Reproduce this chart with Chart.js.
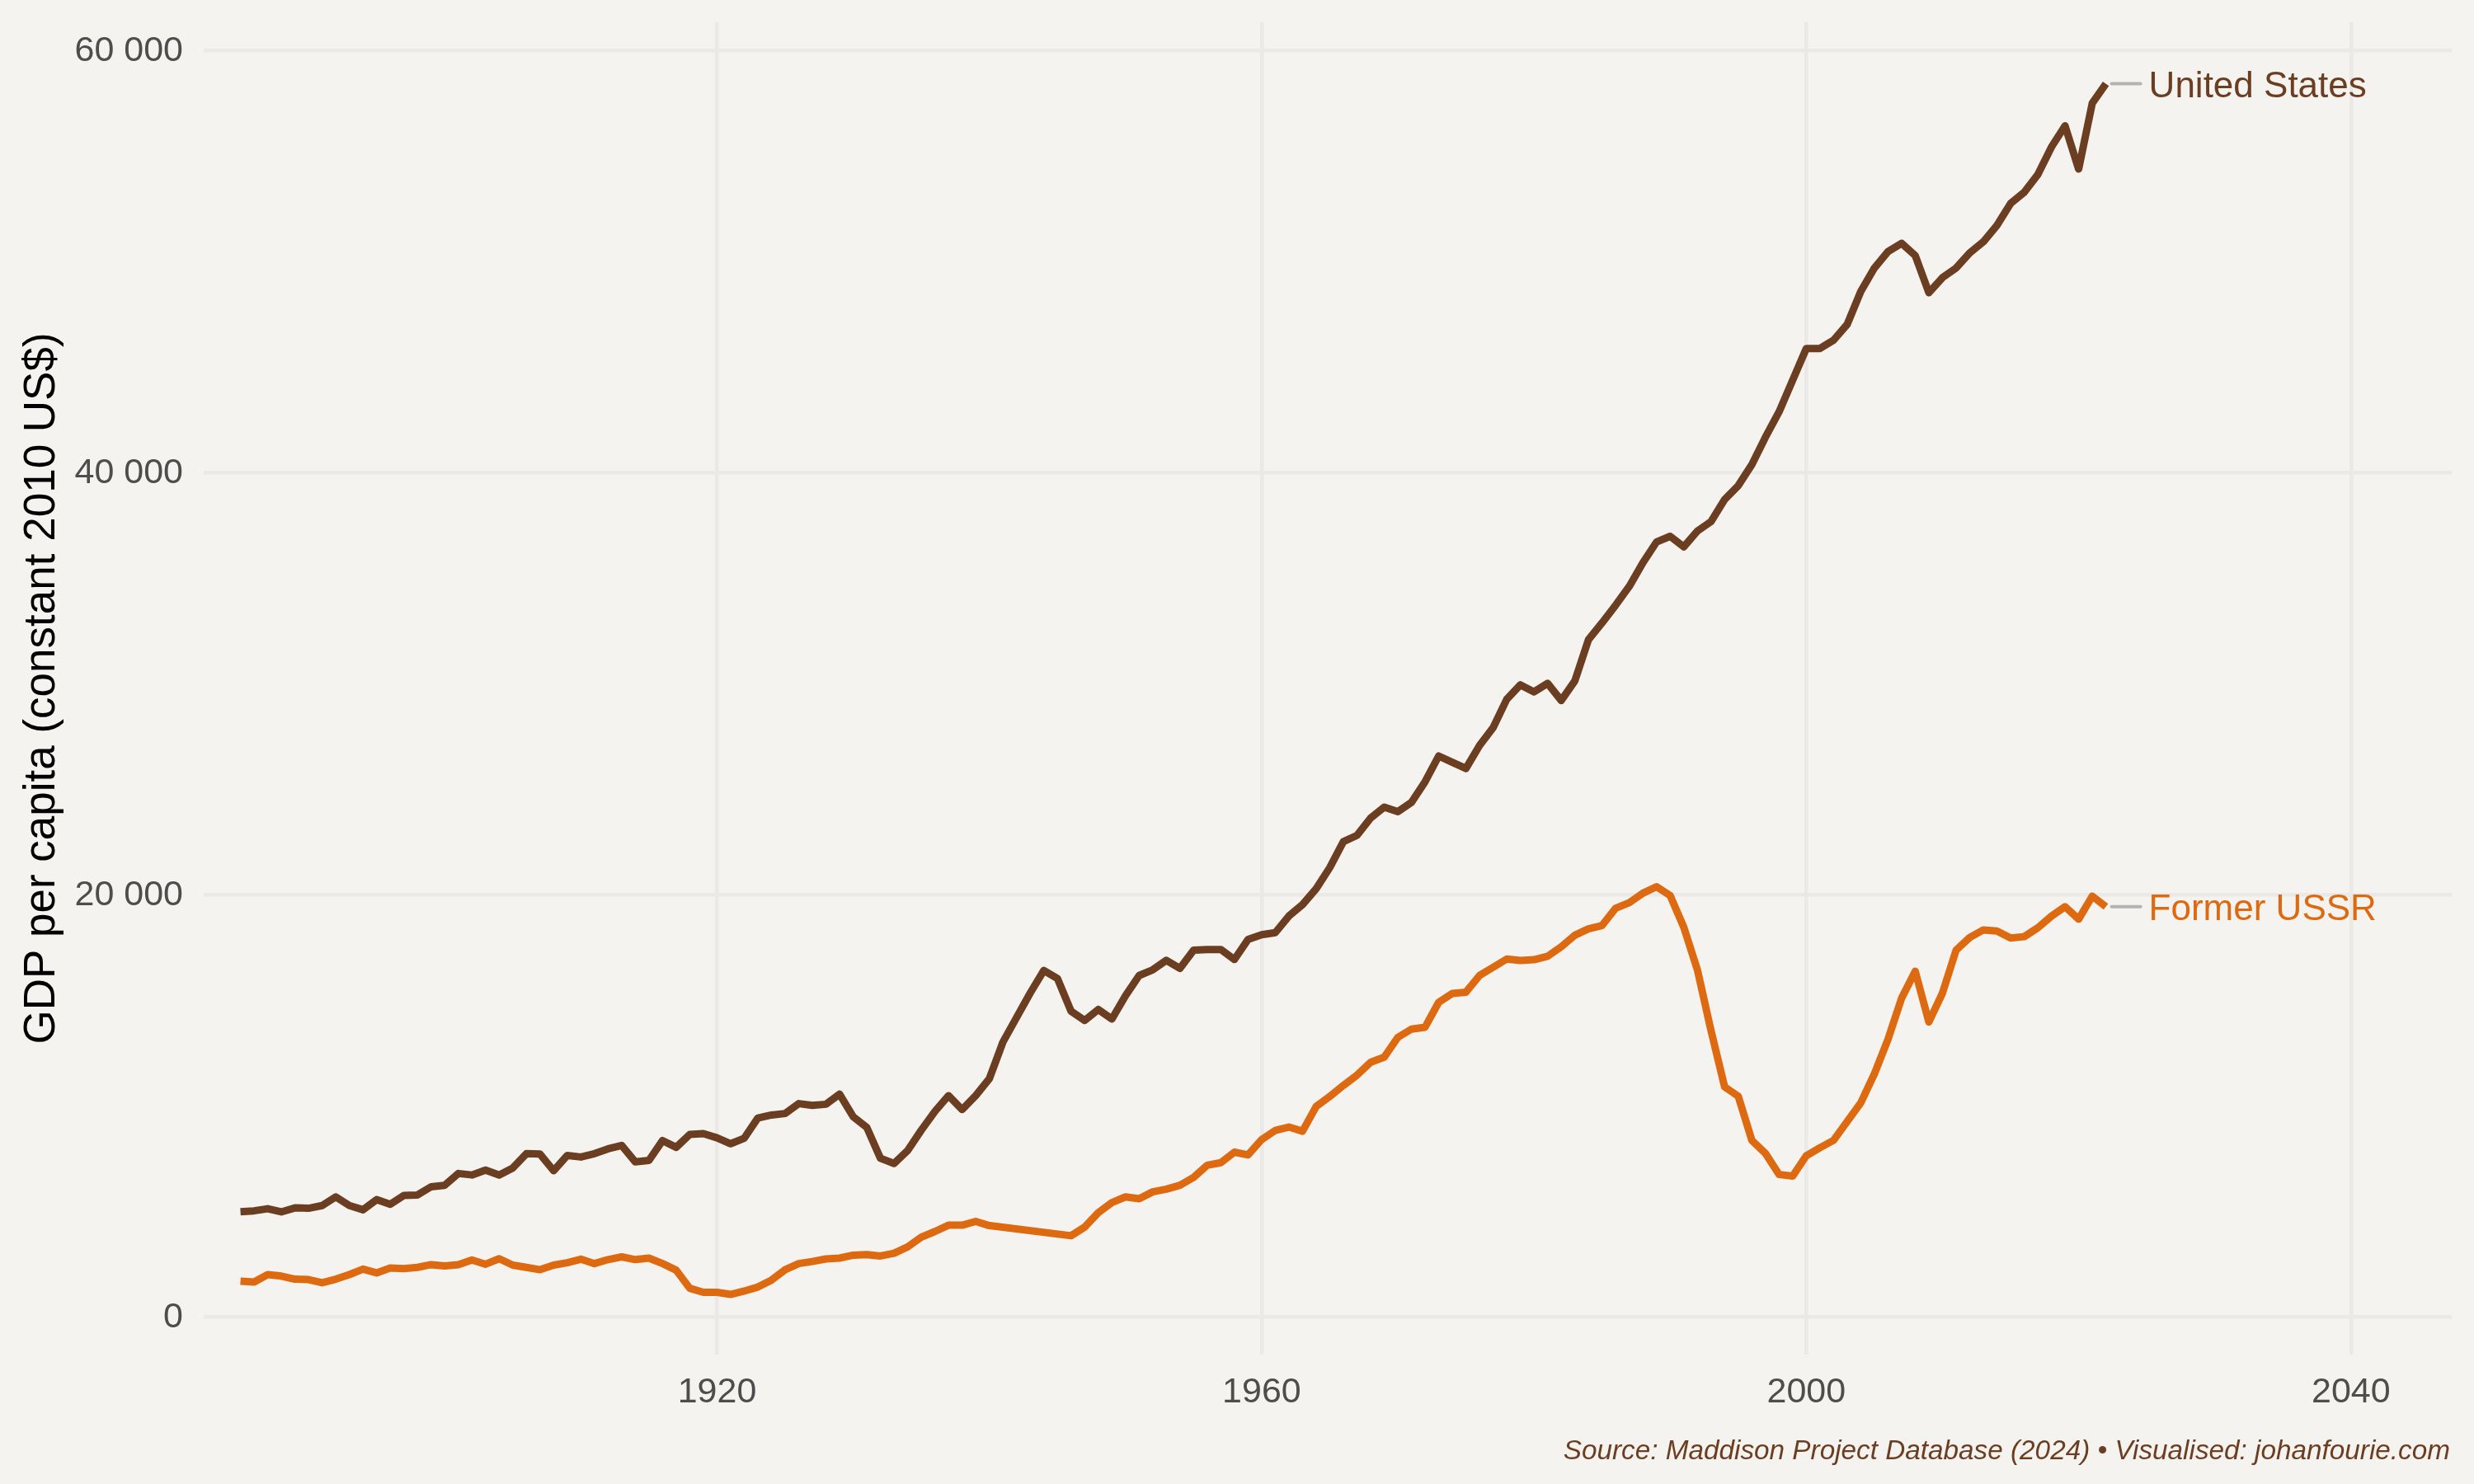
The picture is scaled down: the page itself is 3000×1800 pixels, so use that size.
<!DOCTYPE html>
<html lang="en">
<head>
<meta charset="UTF-8">
<title>GDP per capita: United States and Former USSR</title>
<script src="https://cdn.jsdelivr.net/npm/chart.js"></script>
<style>
    body {
        margin: 0;
        padding: 0;
        background-color: #f5f3f0;
    }
    .chartBox {
        position: relative;
        width: 3000px;
        height: 1800px;
    }
</style>
</head>
<body>
<div class="chartBox">
    <canvas id="gdpChart"></canvas>
</div>
<script>
    const years = [
        1885, 1886, 1887, 1888, 1889, 1890, 1891, 1892, 1893, 1894,
        1895, 1896, 1897, 1898, 1899, 1900, 1901, 1902, 1903, 1904,
        1905, 1906, 1907, 1908, 1909, 1910, 1911, 1912, 1913, 1914,
        1915, 1916, 1917, 1918, 1919, 1920, 1921, 1922, 1923, 1924,
        1925, 1926, 1927, 1928, 1929, 1930, 1931, 1932, 1933, 1934,
        1935, 1936, 1937, 1938, 1939, 1940, 1941, 1942, 1943, 1944,
        1945, 1946, 1947, 1948, 1949, 1950, 1951, 1952, 1953, 1954,
        1955, 1956, 1957, 1958, 1959, 1960, 1961, 1962, 1963, 1964,
        1965, 1966, 1967, 1968, 1969, 1970, 1971, 1972, 1973, 1974,
        1975, 1976, 1977, 1978, 1979, 1980, 1981, 1982, 1983, 1984,
        1985, 1986, 1987, 1988, 1989, 1990, 1991, 1992, 1993, 1994,
        1995, 1996, 1997, 1998, 1999, 2000, 2001, 2002, 2003, 2004,
        2005, 2006, 2007, 2008, 2009, 2010, 2011, 2012, 2013, 2014,
        2015, 2016, 2017, 2018, 2019, 2020, 2021, 2022
    ];

    // GDP per capita, United States
    const usGdp = [
        5000, 5040, 5140, 4990, 5180, 5160, 5290, 5700, 5290, 5090,
        5570, 5350, 5770, 5790, 6180, 6250, 6810, 6740, 6970, 6740,
        7070, 7750, 7730, 6940, 7660, 7590, 7750, 7980, 8140, 7360,
        7430, 8370, 8050, 8660, 8700, 8500, 8220, 8480, 9440, 9580,
        9650, 10120, 10040, 10090, 10570, 9500, 8990, 7530, 7280, 7900,
        8860, 9750, 10500, 9840, 10500, 11300, 13040, 14200, 15360, 16430,
        16050, 14500, 14060, 14580, 14130, 15230, 16190, 16460, 16910, 16530,
        17390, 17420, 17420, 16950, 17900, 18120, 18220, 19010, 19550, 20300,
        21300, 22530, 22830, 23650, 24170, 23950, 24390, 25370, 26590, 26290,
        26000, 27090, 27940, 29280, 29960, 29630, 30030, 29220, 30150, 32100,
        32900, 33740, 34630, 35750, 36730, 37000, 36500, 37250, 37700, 38740,
        39400, 40400, 41700, 42900, 44400, 45900, 45900, 46290, 47040, 48600,
        49710, 50490, 50880, 50300, 48540, 49260, 49710, 50430, 50950, 51730,
        52770, 53300, 54140, 55440, 56450, 54400, 57520, 58440
    ];

    // GDP per capita, Former USSR (no data 1941-1945)
    const ussrGdp = [
        1710, 1670, 2020, 1950, 1800, 1780, 1630, 1800, 2020, 2280,
        2100, 2330, 2300, 2360, 2490, 2430, 2490, 2710, 2510, 2770,
        2470, 2360, 2250, 2470, 2580, 2750, 2540, 2730, 2860, 2730,
        2800, 2540, 2230, 1370, 1180, 1180, 1080, 1240, 1430, 1760,
        2250, 2540, 2640, 2760, 2800, 2940, 2970, 2900, 3030, 3330,
        3790, 4060, 4360, 4360, 4540, 4340, null, null, null, null,
        null, 3860, 4270, 4950, 5430, 5700, 5610, 5940, 6070, 6250,
        6620, 7200, 7320, 7820, 7690, 8420, 8850, 9010, 8810, 9980,
        10460, 10980, 11470, 12080, 12320, 13260, 13650, 13740, 14920, 15340,
        15400, 16190, 16580, 16970, 16900, 16940, 17100, 17550, 18100, 18400,
        18560, 19380, 19640, 20090, 20400, 19980, 18480, 16460, 13580, 10910,
        10470, 8380, 7760, 6760, 6690, 7650, 8030, 8380, 9270, 10160,
        11530, 13170, 15120, 16390, 13990, 15360, 17390, 17990, 18350, 18300,
        17970, 18030, 18450, 19000, 19450, 18860, 19950, 19450
    ];

    const xTickValues = [1920, 1960, 2000, 2040];
    const yTickValues = [0, 20000, 40000, 60000];

    const usColor = '#6b3d21';
    const ussrColor = '#dd6a11';
    const gridColor = '#ebe9e8';
    const fontFamily = '"Liberation Sans", Arial, sans-serif';
    const caption = 'Source: Maddison Project Database (2024) \u2022 Visualised: johanfourie.com';

    function toPoints(values) {
        return years.map((yr, i) => ({x: yr, y: values[i]}));
    }

    // thousands with a space, e.g. 60 000
    function spaced(v) {
        return String(v).replace(/\B(?=(\d{3})+(?!\d))/g, ' ');
    }

    // grey leader line + series name after the last point, and the source line
    const endLabels = {
        id: 'endLabels',
        afterDatasetsDraw(chart) {
            const ctx = chart.ctx;
            chart.data.datasets.forEach((ds, i) => {
                const pts = chart.getDatasetMeta(i).data;
                const last = pts[pts.length - 1];
                ctx.save();
                ctx.strokeStyle = '#b3b3b3';
                ctx.lineWidth = 4;
                ctx.lineCap = 'round';
                ctx.beginPath();
                ctx.moveTo(last.x + 7, last.y);
                ctx.lineTo(last.x + 42, last.y);
                ctx.stroke();
                ctx.fillStyle = ds.borderColor;
                ctx.font = '44px ' + fontFamily;
                ctx.textAlign = 'left';
                ctx.textBaseline = 'alphabetic';
                ctx.fillText(ds.label, last.x + 52, last.y + 16);
                ctx.restore();
            });
            ctx.save();
            ctx.font = 'italic 33.3px ' + fontFamily;
            ctx.fillStyle = usColor;
            ctx.textAlign = 'right';
            ctx.textBaseline = 'alphabetic';
            ctx.fillText(caption, chart.chartArea.right - 2, chart.height - 30);
            ctx.restore();
        }
    };

    const ctx = document.getElementById('gdpChart');

    const gdpChart = new Chart(ctx, {
        type: 'line',
        data: {
            datasets: [{
                label: 'United States',
                data: toPoints(usGdp),
                borderColor: usColor,
                borderWidth: 9,
                pointRadius: 0,
                tension: 0,
                borderJoinStyle: 'round',
                borderCapStyle: 'butt'
            }, {
                label: 'Former USSR',
                data: toPoints(ussrGdp),
                borderColor: ussrColor,
                borderWidth: 9,
                pointRadius: 0,
                tension: 0,
                spanGaps: true,
                borderJoinStyle: 'round',
                borderCapStyle: 'butt'
            }]
        },
        options: {
            responsive: true,
            maintainAspectRatio: false,
            animation: false,
            devicePixelRatio: 1,
            layout: {
                padding: {top: 27, right: 27, bottom: 0, left: 0}
            },
            plugins: {
                legend: {display: false},
                tooltip: {enabled: false}
            },
            scales: {
                x: {
                    type: 'linear',
                    min: 1882.3,
                    max: 2047.4,
                    afterBuildTicks: (scale) => {
                        scale.ticks = xTickValues.map(v => ({value: v}));
                    },
                    afterFit: (scale) => {
                        scale.height = 157;
                        scale.paddingLeft = 0;
                        scale.paddingRight = 0;
                    },
                    ticks: {
                        color: '#4d4d4d',
                        font: {family: fontFamily, size: 43},
                        padding: 20,
                        maxRotation: 0,
                        callback: (v) => String(v)
                    },
                    grid: {
                        color: gridColor,
                        lineWidth: 4.5,
                        drawTicks: false
                    },
                    border: {display: false}
                },
                y: {
                    min: -1770,
                    max: 61355,
                    afterBuildTicks: (scale) => {
                        scale.ticks = yTickValues.map(v => ({value: v}));
                    },
                    afterFit: (scale) => {
                        scale.width = 247;
                        scale.paddingTop = 0;
                        scale.paddingBottom = 0;
                    },
                    ticks: {
                        color: '#4d4d4d',
                        font: {family: fontFamily, size: 43},
                        padding: 25,
                        callback: (v) => spaced(v)
                    },
                    grid: {
                        color: gridColor,
                        lineWidth: 4.5,
                        drawTicks: false
                    },
                    border: {display: false},
                    title: {
                        display: true,
                        text: 'GDP per capita (constant 2010 US$)',
                        color: '#000000',
                        font: {family: fontFamily, size: 53},
                        padding: {top: 20, bottom: 0}
                    }
                }
            }
        },
        plugins: [endLabels]
    });
</script>
</body>
</html>
